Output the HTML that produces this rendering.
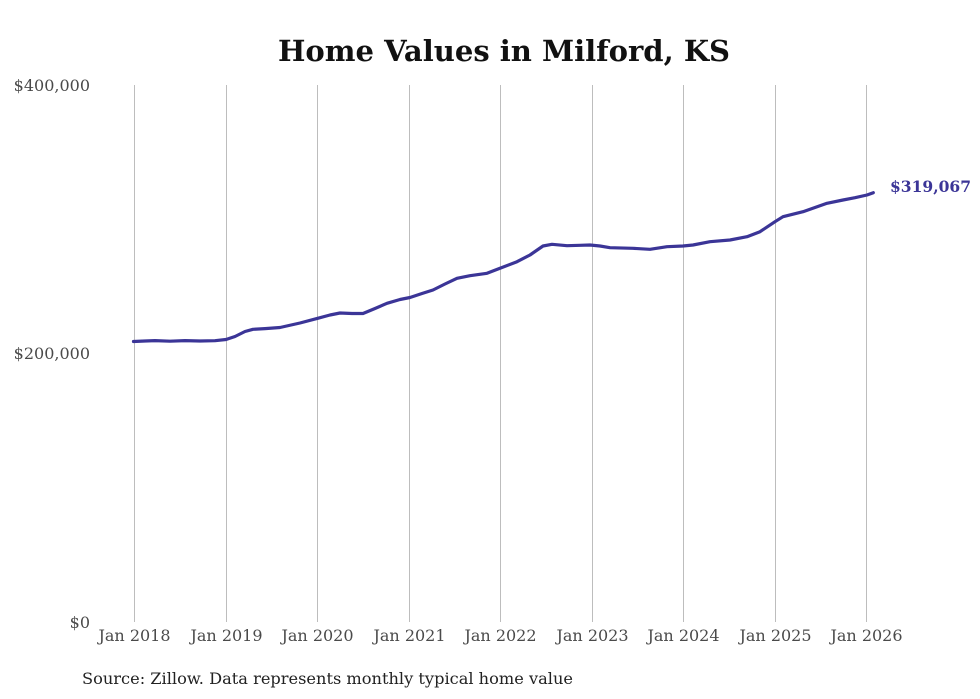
<!DOCTYPE html>
<html>
<head>
<meta charset="utf-8">
<style>
  html, body { margin: 0; padding: 0; background: #ffffff; }
  svg { display: block; }
  text { font-family: "DejaVu Serif", "Liberation Serif", serif; }
</style>
</head>
<body>
<svg width="980" height="699" viewBox="0 0 980 699" xmlns="http://www.w3.org/2000/svg">
  <rect width="980" height="699" fill="#ffffff"/>
  <!-- Title -->
  <text x="504" y="61" text-anchor="middle" font-size="29" font-weight="bold" fill="#111" textLength="452" lengthAdjust="spacingAndGlyphs">Home Values in Milford, KS</text>

  <!-- Vertical gridlines -->
  <g stroke="#bdbdbd" stroke-width="1">
    <line x1="134.5" y1="85" x2="134.5" y2="622"/>
    <line x1="226.5" y1="85" x2="226.5" y2="622"/>
    <line x1="317.5" y1="85" x2="317.5" y2="622"/>
    <line x1="409.5" y1="85" x2="409.5" y2="622"/>
    <line x1="500.5" y1="85" x2="500.5" y2="622"/>
    <line x1="592.5" y1="85" x2="592.5" y2="622"/>
    <line x1="683.5" y1="85" x2="683.5" y2="622"/>
    <line x1="775.5" y1="85" x2="775.5" y2="622"/>
    <line x1="866.5" y1="85" x2="866.5" y2="622"/>
  </g>

  <!-- Y axis labels -->
  <g font-size="16" fill="#4a4a4a" text-anchor="end">
    <text x="90" y="91">$400,000</text>
    <text x="90" y="359">$200,000</text>
    <text x="90" y="628">$0</text>
  </g>

  <!-- X axis labels -->
  <g font-size="16" fill="#4a4a4a" text-anchor="middle">
    <text x="134.5" y="641">Jan 2018</text>
    <text x="226.5" y="641">Jan 2019</text>
    <text x="317.5" y="641">Jan 2020</text>
    <text x="409.5" y="641">Jan 2021</text>
    <text x="500.5" y="641">Jan 2022</text>
    <text x="592.5" y="641">Jan 2023</text>
    <text x="683.5" y="641">Jan 2024</text>
    <text x="775.5" y="641">Jan 2025</text>
    <text x="866.5" y="641">Jan 2026</text>
  </g>

  <!-- Series line -->
  <polyline fill="none" stroke="#3b3597" stroke-width="3.2" stroke-linejoin="round" stroke-linecap="round"
    points="133.5,341.5 145,341 155,340.6 170,341.2 185,340.6 200,341 215,340.7 226,339.5 235,336.5 245,331.5 253,329.3 265,328.6 280,327.5 300,323 317.7,318.3 330,315 340,313 352,313.5 363,313.5 375,308.5 387,303.3 400,299.5 410,297.5 422,293.5 433,290 445,284 457,278.3 470,275.7 487,273.3 500,268.3 517,261.7 530,255 543,246 552,244.3 567,245.7 580,245.3 590,245 600,246 610,247.7 633,248.3 650,249.3 667,246.7 683,246 693,245 710,241.7 730,240 747,236.7 760,231.7 775,221.7 783,216.7 803,211.7 827,203.3 843,200 855,197.7 867,195 873.3,192.7"/>

  <!-- End value label -->
  <text x="890" y="192" font-size="16" font-weight="bold" fill="#3b3597" textLength="81" lengthAdjust="spacingAndGlyphs">$319,067</text>

  <!-- Source -->
  <text x="82" y="684" font-size="16" fill="#222" textLength="491" lengthAdjust="spacingAndGlyphs">Source: Zillow. Data represents monthly typical home value</text>
</svg>
</body>
</html>
